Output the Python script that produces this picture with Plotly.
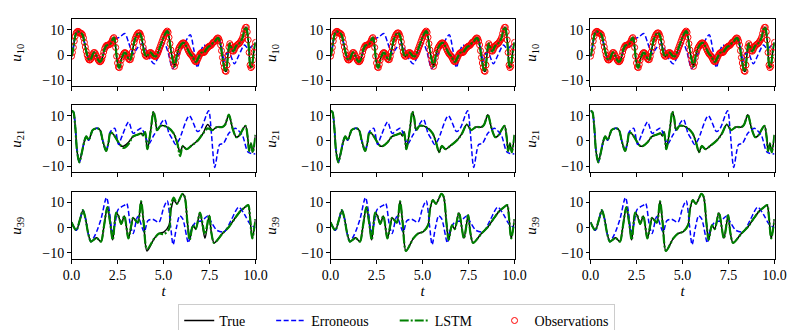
import numpy as np
import plotly.graph_objects as go

# ---- data ----
# u10 is observed every 0.05 time units; the true trajectory passes through the observations
t_obs = np.round(np.arange(0, 10.0001, 0.05), 2)

u10_true = [-0.5, 1.0, 3, 5.5, 7.5, 8.7, 9.2, 9.4, 9.2, 8.8,
            8.6, 8.5, 8.0, 6.8, 5, 3.2, 1.5, 0, -1.2, -1.9,
            -2, -1.6, -0.8, 0.2, 0.9, 1.0, 0.5, -0.3, -1.2, -2,
            -2.5, -2.7, -2.4, -1.6, -0.3, 1.2, 2.5, 3.3, 3.8, 3.9,
            4, 4.1, 4.3, 4.8, 5.6, 6.5, 6.9, 5.8, 3, -0.5,
            -3.2, -4.8, -5, -3.8, -2, -0.8, 0, 0.7, 1, 0.7,
            0, -0.8, -1.5, -1.9, -1.8, -0.6, 1.2, 3.2, 5, 6.3,
            7.2, 8, 8.5, 8.8, 8.7, 8.1, 7, 5.2, 3, 1.2,
            0, -0.5, -0.5, 0, 0.5, 0.9, 1, 0.7, 0.2, -0.3,
            -0.5, -0.6, -0.4, 0.2, 1, 2, 3, 4, 5, 6,
            7, 7.8, 8.5, 9.1, 9.5, 9, 7, 4.5, 2, -0.2,
            -2, -3.6, -4.5, -3.2, -1, 0.7, 2, 2.9, 3.5, 4.1,
            4.5, 4.8, 4.8, 4.5, 4, 3.3, 2.5, 1.7, 1, 0.4,
            0, -0.4, -1, -1.8, -2.4, -2.7, -2.5, -1.8, -1, -0.2,
            0.5, 0.9, 1, 1, 1, 1.4, 2, 2.5, 3, 3.3,
            3.5, 3.7, 4, 4.5, 5, 5.2, 5.5, 6, 6.5, 6.8,
            6.5, 5.5, 4, 1.7, -1, -3.2, -5, -6.3, -6.5, -4,
            0, 3.2, 4.5, 3.8, 2.5, 1.7, 1.5, 2.1, 3, 3.6,
            4, 4.3, 4.5, 4.9, 5.5, 6.1, 7, 8.5, 10, 10.9,
            11, 9.2, 6, 1, -4, -5, -4.5, -2, 1, 3.2,
            5]

u10_err_t = [0, 0.1, 0.2, 0.3, 0.45, 0.6, 0.8, 1.0, 1.2, 1.3, 1.5, 1.6, 1.75, 2.0, 2.4,
             2.6, 2.9, 3.1, 3.35, 3.6, 3.85, 4.1, 4.3, 4.5, 4.75, 5.05, 5.25, 5.5, 5.75,
             6.1, 6.45, 6.65, 6.85, 7.05, 7.2, 7.3, 7.45, 7.6, 7.8, 8.0, 8.15, 8.3, 8.45,
             8.6, 8.85, 9.1, 9.4, 9.6, 9.8, 10.0]
u10_err = [-0.5, 3, 7.5, 9, 9, 8, 1.5, -2, 0.8, 0.5, -2.5, -2.5, 0.5, 4.5, 6.5,
           7, 8.5, 5, 0.5, 3, 4.5, 1, -2, -3.5, 0, 4.5, 1, -5.5, -1,
           4, 8, 2, -5, 2, 4, 3.5, 4.5, 3.5, 5, 7, 3, -2.5, 1,
           0.5, -3.5, 0, 4, 2.5, 3.5, 4.5]

u21_true_t = [0, 0.1, 0.2, 0.3, 0.42, 0.55, 0.7, 0.8, 0.93, 1.05, 1.15, 1.4, 1.55, 1.7, 1.88,
              2.0, 2.12, 2.3, 2.5, 2.7, 2.85, 3.1, 3.35, 3.6, 3.8, 3.9, 4.0, 4.12, 4.3, 4.45,
              4.55, 4.65, 4.85, 5.2, 5.55, 5.75, 5.9, 6.05, 6.25, 6.5, 6.9, 7.15, 7.4, 7.65,
              7.9, 8.2, 8.35, 8.55, 8.75, 8.95, 9.1, 9.45, 9.58, 9.65, 9.75, 9.85, 10.0]
u21_true = [12, 11.5, 6, -4, -8.5, -5, 0, 1.8, 0.3, 2.5, 4.3, 5, 4.3, 0, -4,
            -1, 3.5, 2.4, 0, -2, -2, -0.5, 1.8, 2.5, 3, 2, 3.5, -3.3, 4, 11.6,
            9, 4.3, 6, 5.5, 3, -1, -4.5, -2, -3.3, -2, 0.5, 3, 6.5, 4.3,
            5.5, 5.5, 6.5, 10.4, 5, 1.5, 2, 6, 1, -4, -1, -4.5, 2.4]
# LSTM estimate in the first column drifts slightly from the truth
u21_lstm_first = [12, 11.5, 6, -4, -8.5, -5, 0, 1.8, 0.3, 2.5, 4.3, 5, 4.3, 0, -4,
                  -1, 3.5, 2.4, 0, -2, -2.8, -1.2, 1.8, 2.5, 3, 2, 3.5, -3.3, 4, 11.6,
                  9, 4.3, 6, 5.5, 3, -1, -6, -2, -3.3, -2, 0.5, 3, 5, 4.3,
                  5.5, 5.5, 6.5, 10.4, 5, 1.5, 2, 6, 1, -4, -1, -4.5, 2.4]

u21_err_t = [0, 0.1, 0.2, 0.3, 0.42, 0.55, 0.7, 0.8, 0.93, 1.05, 1.15, 1.4, 1.55, 1.7, 1.88,
             2.0, 2.1, 2.35, 2.55, 2.75, 3.1, 3.35, 3.6, 3.8, 4.0, 4.2, 4.45, 4.7, 5.05,
             5.3, 5.5, 5.65, 5.85, 6.4, 6.85, 7.05, 7.45, 7.6, 7.78, 7.95, 8.05, 8.25,
             8.55, 8.9, 9.05, 9.3, 9.6, 10.0]
u21_err = [12, 11.5, 6, -4, -8.5, -5, 0, 1.8, 0.3, 2.5, 4.3, 5, 4.3, 0, -4,
           -1, 3.5, 5, -1.4, 2, 7.5, 3, 4.3, 5, 2, -1.2, 2, 5, 8.5,
           3, 0.5, -1.4, 0.5, 10, 3.7, 5, 12, 3, -10.5, -4, -1.4, -1,
           3, 5, 4.3, 2, -4.5, -5.2]

u39_true_t = [0, 0.26, 0.45, 0.62, 0.75, 0.9, 1.05, 1.2, 1.36, 1.6, 1.75, 1.95, 2.1, 2.24,
              2.43, 2.55, 2.7, 2.87, 3.09, 3.25, 3.35, 3.6, 3.78, 3.92, 4.1, 4.5, 4.75,
              5.03, 5.3, 5.4, 5.56, 5.73, 6.03, 6.15, 6.3, 6.42, 6.6, 6.75, 6.98, 7.25,
              7.48, 7.6, 7.75, 8.2, 8.55, 8.9, 9.17, 9.4, 9.6, 9.7, 9.82, 10.0]
u39_true = [2.2, -1, 3, 7, 4, -2, -5.5, -4.8, -4, -5.5, 0, 8.2, 2, -4.8,
            6, 4.7, 1.5, 4.7, -4.2, 1, 4, 2, 10.5, 2, -9.2, -4.2, -2.3,
            -1.6, 1, 7, 11, 9.5, 13.5, 12.3, 2, -4.8, 1, -0.5, 6, -4.2,
            5, -2, -6, -2.3, 0.3, 4, 6.6, 8, 9, 4, -4.2, 3.4]
u39_lstm_first = [2.2, -1, 3, 7, 4, -2, -5.5, -4.8, -4, -5.5, 0, 8.2, 2, -4.8,
                  6, 4.7, 1.5, 4.7, -4.2, 1, 4, 2, 10.5, 2, -8.5, -4.2, -2.3,
                  -2.5, -0.5, 9, 12, 9.5, 13.5, 12.3, 2, -4.8, 1, -0.5, 6, -2.5,
                  5, -2, -6, -2.3, 0.3, 4, 6.6, 8, 9, 4, -4.2, 3.4]

u39_err_t = [0, 0.26, 0.45, 0.62, 0.75, 0.9, 1.05, 1.2, 1.36, 1.6, 1.9, 2.05, 2.22, 2.35,
             2.53, 2.9, 3.0, 3.2, 3.35, 3.6, 3.95, 4.15, 4.4, 4.75, 5.0, 5.2, 5.38, 5.52,
             5.7, 5.88, 6.05, 6.35, 6.5, 6.75, 7.1, 7.4, 7.6, 7.9, 8.3, 8.7, 9.08, 9.4,
             9.7, 10.0]
u39_err = [2.2, -1, 3, 7, 4, -2, -5.5, -4, -1.6, 3.4, 12, 7, -1.6, 1,
           7.2, 9.1, 9.7, 1, -2.3, 4.5, -1.6, 2.8, 3.4, 2.2, 7.8, 10.7, 1, -6.7,
           0, 4.8, 3.4, -6, -1, 2.2, 2.8, 4.7, 2.2, -1, -1.6, 3.4, 8.2, 5.3,
           1.5, 0]

# ---- layout geometry (pixels) ----
W, H = 797, 330
col_px = [(56, 245), (322, 511), (589, 778)]
row_px = [(12, 82), (102, 172), (193, 263)]
FONT = "Liberation Serif"

names = {"true": "True" + "&nbsp;" * 6,
         "err": "Erroneous" + "&nbsp;" * 6,
         "lstm": "LSTM" + "&nbsp;" * 5,
         "obs": "Observations"}

rows = [("10", (t_obs, u10_true), (u10_err_t, u10_err), None),
        ("21", (u21_true_t, u21_true), (u21_err_t, u21_err), u21_lstm_first),
        ("39", (u39_true_t, u39_true), (u39_err_t, u39_err), u39_lstm_first)]

fig = go.Figure()


def ax_ref(idx):
    return ("x", "y") if idx == 1 else (f"x{idx}", f"y{idx}")


for r, (sub, truth, err, lstm_first) in enumerate(rows):
    for c in range(3):
        idx = r * 3 + c + 1
        xa, ya = ax_ref(idx)
        show = (r == 0 and c == 0)
        tx, ty = truth
        lstm_y = lstm_first if (c == 0 and lstm_first is not None) else ty
        fig.add_trace(go.Scatter(x=tx, y=ty, mode="lines", name=names["true"],
                                 legendgroup="true", showlegend=show, legendrank=1,
                                 line=dict(color="black", width=1.5, shape="spline", smoothing=0.8),
                                 xaxis=xa, yaxis=ya))
        fig.add_trace(go.Scatter(x=err[0], y=err[1], mode="lines", name=names["err"],
                                 legendgroup="err", showlegend=show, legendrank=2,
                                 line=dict(color="#0000ff", width=1.5, dash="5px,2.5px",
                                           shape="spline", smoothing=0.8),
                                 xaxis=xa, yaxis=ya))
        if r == 0:
            fig.add_trace(go.Scatter(x=t_obs, y=u10_true, mode="markers", name=names["obs"],
                                     legendgroup="obs", showlegend=show, legendrank=4,
                                     marker=dict(symbol="circle-open", size=6, color="red",
                                                 line=dict(width=1, color="red")),
                                     xaxis=xa, yaxis=ya))
        fig.add_trace(go.Scatter(x=tx, y=lstm_y, mode="lines", name=names["lstm"],
                                 legendgroup="lstm", showlegend=show, legendrank=3,
                                 line=dict(color="#008000", width=2.2, dash="9px,2px,2px,2px",
                                           shape="spline", smoothing=0.8),
                                 xaxis=xa, yaxis=ya))

        x0, x1 = col_px[c]
        y0, y1 = row_px[r]
        common = dict(showline=True, linecolor="black", linewidth=1, mirror=True,
                      ticks="outside", ticklen=3.5, tickwidth=1, tickcolor="black",
                      showgrid=False, zeroline=False, tickfont=dict(size=14, color="black"))
        xkey = "xaxis" if idx == 1 else f"xaxis{idx}"
        ykey = "yaxis" if idx == 1 else f"yaxis{idx}"
        xdict = dict(domain=[x0 / W, x1 / W], anchor=ya, range=[0, 10],
                     tickvals=[0, 2.5, 5, 7.5, 10],
                     ticktext=["0.0", "2.5", "5.0", "7.5", "10.0"],
                     showticklabels=(r == 2), **common)
        if r == 2:
            xdict["title"] = dict(text="<i>t</i>", font=dict(size=15), standoff=2)
        fig.layout[xkey] = xdict
        fig.layout[ykey] = dict(domain=[1 - y1 / H, 1 - y0 / H], anchor=xa,
                                range=[-12.4, 14.1], tickvals=[-10, 0, 10],
                                title=dict(text=f"<i>u</i><sub>{sub}</sub>",
                                           font=dict(size=15), standoff=21),
                                **common)

fig.update_layout(
    width=W, height=H,
    margin=dict(l=0, r=0, t=0, b=0),
    paper_bgcolor="white", plot_bgcolor="white",
    font=dict(family=FONT, size=13, color="black"),
    legend=dict(orientation="h", x=(398 - 8) / W, xanchor="center", y=(H - 310) / H,
                yanchor="top", bordercolor="#cccccc", borderwidth=1, bgcolor="white",
                font=dict(size=14), itemwidth=30, traceorder="normal"),
)

fig.write_html("out.html")
